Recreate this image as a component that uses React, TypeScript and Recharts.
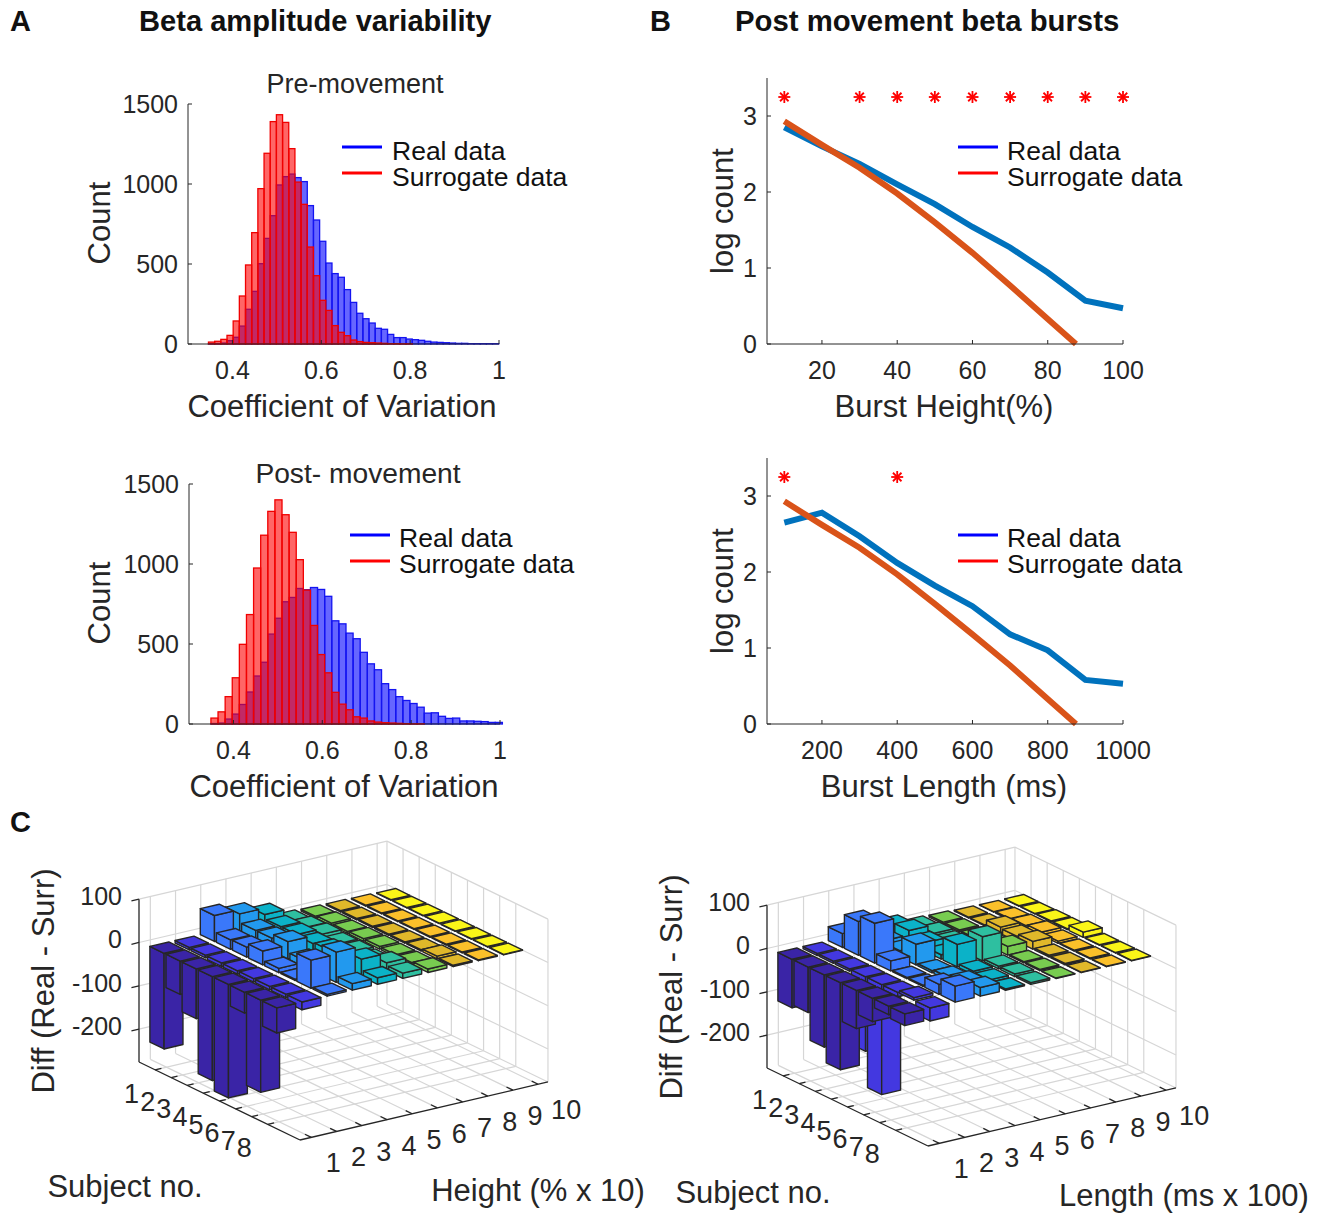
import React from "react";
import {
  Bar,
  ComposedChart,
  Line,
  Scatter,
  ScatterChart,
  XAxis,
  YAxis,
} from "recharts";

// Panel A, histogram counts per bin
const preReal = [2, 3, 6, 21, 42, 112, 217, 329, 502, 660, 802, 994, 1046, 1062, 1040, 1015, 865, 775, 642, 506, 440, 417, 340, 260, 192, 158, 131, 98, 92, 60, 40, 40, 31, 27, 23, 17, 12, 10, 8, 6, 4, 4, 2, 2, 2, 2, 2];
const preSurr = [12, 17, 29, 54, 144, 300, 494, 696, 971, 1192, 1390, 1433, 1385, 1221, 1012, 873, 606, 427, 273, 210, 115, 73, 52, 25, 15, 10, 8, 6, 4, 2, 2, 1, 1, 0, 0, 0, 0, 0, 0, 0, 0, 0, 0, 0, 0, 0, 0];
const postReal = [3, 6, 31, 62, 122, 200, 300, 386, 562, 661, 764, 791, 847, 839, 853, 841, 798, 645, 626, 568, 533, 448, 376, 339, 252, 215, 171, 147, 128, 105, 68, 70, 48, 35, 37, 19, 19, 17, 15, 10, 10];
const postSurr = [37, 76, 171, 289, 498, 684, 975, 1180, 1329, 1401, 1308, 1198, 1027, 837, 616, 434, 320, 198, 124, 89, 45, 37, 19, 12, 8, 6, 4, 2, 1, 1, 0, 0, 0, 0, 0, 0, 0, 0, 0, 0, 0];
const cvTicks = [0.4, 0.6, 0.8, 1];
const countTicks = [0, 500, 1000, 1500];

// Panel B
const heightBins = [10, 20, 30, 40, 50, 60, 70, 80, 90, 100];
const heightReal = [2.85, 2.6, 2.37, 2.1, 1.84, 1.54, 1.27, 0.94, 0.57, 0.47];
const heightSurrX = [10, 20, 30, 40, 50, 60, 70, 80, 87.5];
const heightSurr = [2.93, 2.62, 2.32, 1.98, 1.6, 1.2, 0.77, 0.33, 0];
const heightStars = [10, 30, 40, 50, 60, 70, 80, 90, 100];
const lengthBins = [100, 200, 300, 400, 500, 600, 700, 800, 900, 1000];
const lengthReal = [2.65, 2.78, 2.47, 2.12, 1.82, 1.55, 1.18, 0.97, 0.58, 0.53];
const lengthSurrX = [100, 200, 300, 400, 500, 600, 700, 800, 875];
const lengthSurr = [2.93, 2.62, 2.32, 1.97, 1.58, 1.18, 0.77, 0.33, 0];
const lengthStars = [100, 400];
const starLevel = 3.25;

// Panel C, one row per height/length bin, one value per subject
const heightDiff = [
  [-221, -77, -115, -240, -262, -48, -213, -58],
  [-6, -6, -8, -8, -8, -8, -8, -18],
  [60, 22, 23, 32, 10, 3, 65, 4],
  [50, 30, 30, 40, 15, 12, 70, 15],
  [35, 25, 25, 22, 25, 10, 40, 15],
  [6, 10, 12, 8, 8, 6, 18, 12],
  [4, 6, 5, 6, 6, 5, 5, 8],
  [3, 3, 3, 3, 3, 3, 6, 3],
  [2, 2, 2, 2, 2, 2, 2, 2],
  [1, 1, 1, 1, 1, 1, 1, 1],
];
const lengthDiff = [
  [-112, -105, -167, -201, -88, -54, -20, -27],
  [-5, -5, -5, -172, -254, -10, 6, -30],
  [32, 78, 92, 23, 3, 3, 23, 37],
  [5, 20, 15, 48, 5, 8, 15, 20],
  [22, 30, 20, 10, 52, 8, 6, 3],
  [6, 10, 8, 8, 56, 6, 6, 4],
  [4, 4, 3, 8, 20, 3, 3, 1],
  [2, 2, 15, 12, 18, 4, 3, 1],
  [1, 3, 5, 8, 5, 2, 2, 1],
  [1, 1, 2, 2, 12, 1, 1, 1],
];
const binColors = ["#3A24A6", "#4338E0", "#3A78FA", "#2299EE", "#0BB2C8", "#2EBFA0", "#78CC50", "#E0B82A", "#FBC02A", "#FAF518"];
const subjectTicks = [1, 2, 3, 4, 5, 6, 7, 8];
const binTicks = [1, 2, 3, 4, 5, 6, 7, 8, 9, 10];
const diffTicks = [100, 0, -100, -200];

const FONT = "'Liberation Sans', Arial, sans-serif";
const INK = "#262626";
const tickStyle = { fontSize: 25, fontFamily: FONT, fill: INK };

// recharts narrows bars on a numeric axis, so the bin width is set here
function HistBar(props: any) {
  const { x, y, width, height, fill, stroke, barPx } = props;
  if (!(height > 0)) return null;
  return <rect x={x + width / 2 - barPx / 2} y={y} width={barPx} height={height} fill={fill} stroke={stroke} strokeWidth={1.3} />;
}

function Histogram({ left, top, real, surr, start, width }: any) {
  const rows = real.map((r: number, i: number) => ({ x: start + width * (i + 0.5), real: r, surr: surr[i] }));
  const barPx = (width * 311) / 0.7;
  return (
    <div style={{ position: "absolute", left: left - 80, top: top - 20 }}>
      <ComposedChart width={80 + 311 + 30} height={20 + 240 + 50} data={rows} margin={{ top: 20, right: 30, bottom: 0, left: 0 }}>
        <XAxis xAxisId="real" dataKey="x" type="number" domain={[0.3, 1]} ticks={cvTicks} height={50} tickSize={-4} tickMargin={21} tick={tickStyle} stroke={INK} />
        <XAxis xAxisId="surr" dataKey="x" type="number" domain={[0.3, 1]} height={50} hide />
        <YAxis type="number" domain={[0, 1500]} ticks={countTicks} width={80} tickSize={-4} tickMargin={14} tick={tickStyle} stroke={INK} interval={0} />
        <Bar xAxisId="real" dataKey="real" fill="rgba(0,0,255,0.6)" stroke="#1414f0" shape={<HistBar barPx={barPx} />} isAnimationActive={false} />
        <Bar xAxisId="surr" dataKey="surr" fill="rgba(255,0,0,0.6)" stroke="#f00000" shape={<HistBar barPx={barPx} />} isAnimationActive={false} />
      </ComposedChart>
    </div>
  );
}

function Asterisk(props: any) {
  const { cx, cy, payload } = props;
  if (payload.star == null) return null;
  const r = 6;
  const d = r * 0.71;
  const arms = [[r, 0], [0, r], [d, d], [d, -d]];
  return (
    <g stroke="#ff0000" strokeWidth={1.8}>
      {arms.map(([a, b], i) => (
        <line key={i} x1={cx - a} y1={cy - b} x2={cx + a} y2={cy + b} />
      ))}
    </g>
  );
}

function BurstLines({ top, bins, real, surrX, surr, stars, domain, ticks }: any) {
  const xs = Array.from(new Set([...bins, ...surrX])).sort((a: any, b: any) => a - b);
  const rows = xs.map((x: any) => {
    const ri = bins.indexOf(x);
    const si = surrX.indexOf(x);
    return {
      x,
      real: ri >= 0 ? real[ri] : null,
      surr: si >= 0 ? surr[si] : null,
      star: stars.includes(x) ? starLevel : null,
    };
  });
  return (
    <div style={{ position: "absolute", left: 767 - 60, top: top - 10 }}>
      <ComposedChart width={60 + 356 + 40} height={10 + 266 + 50} data={rows} margin={{ top: 10, right: 40, bottom: 0, left: 0 }}>
        <XAxis dataKey="x" type="number" domain={domain} ticks={ticks} height={50} tickSize={-4} tickMargin={21} tick={tickStyle} stroke={INK} />
        <YAxis type="number" domain={[0, 3.5]} ticks={[0, 1, 2, 3]} width={60} tickSize={-4} tickMargin={14} tick={tickStyle} stroke={INK} />
        <Line dataKey="real" stroke="#0072BD" strokeWidth={6} dot={false} connectNulls isAnimationActive={false} />
        <Line dataKey="surr" stroke="#D95319" strokeWidth={6} dot={false} connectNulls isAnimationActive={false} />
        <Scatter dataKey="star" shape={<Asterisk />} isAnimationActive={false} />
      </ComposedChart>
    </div>
  );
}

// Oblique view of the bar3 axes, value space to page pixels
const S_MAX = 10;
const H_MIN = 0.55;
const H_MAX = 10.39;
const Z_MIN = -276;
const Z_MAX = 100;

function makeProject(dx: number, dy: number) {
  return (s: number, h: number, z: number) => [
    dx + 139 + s * 16.1 + (h - H_MIN) * 25.2,
    dy + 1062 + s * 7.8 - (h - H_MIN) * 5.9 - (z - Z_MIN) * 0.433,
  ];
}

function Mark3D(props: any) {
  const { cx, cy, payload: m } = props;
  const sx = cx - m.x;
  const sy = cy - m.y;
  if (m.kind === "face") {
    const pts = m.pts.map((p: number[]) => `${p[0] + sx},${p[1] + sy}`).join(" ");
    return <polygon points={pts} fill={m.color} stroke={INK} strokeWidth={1.4} strokeLinejoin="round" />;
  }
  if (m.kind === "line") {
    return <line x1={m.pts[0][0] + sx} y1={m.pts[0][1] + sy} x2={m.pts[1][0] + sx} y2={m.pts[1][1] + sy} stroke={m.color} strokeWidth={m.width} />;
  }
  return (
    <text x={cx} y={cy + 9} textAnchor={m.anchor} fontSize={m.size} fontFamily={FONT} fill={INK}>
      {m.text}
    </text>
  );
}

function buildMarks(matrix: number[][], dx: number, dy: number) {
  const P = makeProject(dx, dy);
  const marks: any[] = [];
  const seg = (a: number[], b: number[], color: string, width: number) =>
    marks.push({ kind: "line", x: a[0], y: a[1], pts: [a, b], color, width });
  const GRID = "#d6d6d6";

  // back walls and floor
  subjectTicks.forEach((s) => {
    seg(P(s, H_MIN, Z_MIN), P(s, H_MAX, Z_MIN), GRID, 1.2);
    seg(P(s, H_MAX, Z_MIN), P(s, H_MAX, Z_MAX), GRID, 1.2);
  });
  binTicks.forEach((h) => {
    seg(P(0, h, Z_MIN), P(S_MAX, h, Z_MIN), GRID, 1.2);
    seg(P(0, h, Z_MIN), P(0, h, Z_MAX), GRID, 1.2);
  });
  diffTicks.forEach((z) => {
    seg(P(0, H_MIN, z), P(0, H_MAX, z), GRID, 1.2);
    seg(P(0, H_MAX, z), P(S_MAX, H_MAX, z), GRID, 1.2);
  });
  seg(P(0, H_MAX, Z_MIN), P(S_MAX, H_MAX, Z_MIN), GRID, 1.2);
  seg(P(0, H_MAX, Z_MIN), P(0, H_MAX, Z_MAX), GRID, 1.2);
  seg(P(S_MAX, H_MAX, Z_MIN), P(S_MAX, H_MAX, Z_MAX), GRID, 1.2);

  // axis lines and ticks
  seg(P(0, H_MIN, Z_MIN), P(0, H_MIN, Z_MAX), INK, 1.3);
  seg(P(0, H_MIN, Z_MIN), P(S_MAX, H_MIN, Z_MIN), INK, 1.3);
  seg(P(S_MAX, H_MIN, Z_MIN), P(S_MAX, H_MAX, Z_MIN), INK, 1.3);
  diffTicks.forEach((z) => seg(P(0, H_MIN, z), P(0, H_MIN - 0.3, z), INK, 1.3));
  subjectTicks.forEach((s) => seg(P(s, H_MIN, Z_MIN), P(s, H_MIN + 0.25, Z_MIN), INK, 1.3));
  binTicks.forEach((h) => seg(P(S_MAX, h, Z_MIN), P(S_MAX - 0.4, h, Z_MIN), INK, 1.3));

  // bars, far corner first
  for (let r = matrix.length - 1; r >= 0; r--) {
    const h = r + 1;
    const color = binColors[r];
    matrix[r].forEach((v, i) => {
      const s = i + 1;
      const s0 = s - 0.44;
      const s1 = s + 0.44;
      const h0 = h - 0.375;
      const h1 = h + 0.375;
      const t = Math.max(v, 0);
      const b = Math.min(v, 0);
      const faces = [
        [P(s0, h0, b), P(s1, h0, b), P(s1, h0, t), P(s0, h0, t)],
        [P(s1, h0, b), P(s1, h1, b), P(s1, h1, t), P(s1, h0, t)],
        [P(s0, h0, t), P(s1, h0, t), P(s1, h1, t), P(s0, h1, t)],
      ];
      faces.forEach((pts) => marks.push({ kind: "face", x: pts[0][0], y: pts[0][1], pts, color }));
    });
  }

  // tick labels
  diffTicks.forEach((z) => {
    const p = P(0, H_MIN, z);
    marks.push({ kind: "text", x: p[0] - 17, y: p[1] - 3, text: String(z), anchor: "end", size: 25 });
  });
  subjectTicks.forEach((s) => {
    const p = P(s, H_MIN, Z_MIN);
    marks.push({ kind: "text", x: p[0] - 23.5, y: p[1] + 24, text: String(s), anchor: "middle", size: 27 });
  });
  binTicks.forEach((h) => {
    const p = P(S_MAX, h, Z_MIN);
    marks.push({ kind: "text", x: p[0] + (h === 10 ? 28 : 22), y: p[1] + 26, text: String(h), anchor: "middle", size: 27 });
  });
  return marks;
}

function Bars3D({ matrix, left, width, dx, dy }: any) {
  const marks = buildMarks(matrix, dx, dy);
  return (
    <div style={{ position: "absolute", left, top: 830 }}>
      <ScatterChart width={width} height={383} margin={{ top: 0, right: 0, bottom: 0, left: 0 }}>
        <XAxis dataKey="x" type="number" domain={[left, left + width]} hide />
        <YAxis dataKey="y" type="number" domain={[830, 1213]} reversed hide />
        <Scatter data={marks} shape={<Mark3D />} isAnimationActive={false} />
      </ScatterChart>
    </div>
  );
}

function LegendPair({ x, y1, y2, lineX, shift, color1, color2 }: any) {
  return (
    <g>
      <line x1={lineX} x2={lineX + 40} y1={y1} y2={y1} stroke={color1} strokeWidth={2.8} />
      <line x1={lineX} x2={lineX + 40} y1={y2} y2={y2} stroke={color2} strokeWidth={2.8} />
      <text x={x} y={y1 + shift} fontSize={26.5} fill="#111">Real data</text>
      <text x={x} y={y2 + shift} fontSize={26.5} fill="#111">Surrogate data</text>
    </g>
  );
}

function Rotated({ x, y, children }: any) {
  return (
    <text x={x} y={y} transform={`rotate(-90 ${x} ${y})`} textAnchor="middle" fontSize={31} fill={INK}>
      {children}
    </text>
  );
}

function Centered({ x, y, size = 31, children }: any) {
  return (
    <text x={x} y={y} textAnchor="middle" fontSize={size} fill={INK}>
      {children}
    </text>
  );
}

export default function App() {
  return (
    <div style={{ position: "absolute", left: 0, top: 0, width: 1325, height: 1213, background: "#fff", overflow: "hidden" }}>
      <Histogram left={188} top={104} real={preReal} surr={preSurr} start={0.346} width={0.0139} />
      <Histogram left={189} top={484} real={postReal} surr={postSurr} start={0.349} width={0.016} />
      <BurstLines top={78} bins={heightBins} real={heightReal} surrX={heightSurrX} surr={heightSurr} stars={heightStars} domain={[5.4, 100]} ticks={[20, 40, 60, 80, 100]} />
      <BurstLines top={458} bins={lengthBins} real={lengthReal} surrX={lengthSurrX} surr={lengthSurr} stars={lengthStars} domain={[54, 1000]} ticks={[200, 400, 600, 800, 1000]} />
      <Bars3D matrix={heightDiff} left={0} width={660} dx={0} dy={0} />
      <Bars3D matrix={lengthDiff} left={660} width={665} dx={628} dy={6} />
      <svg width={1325} height={1213} style={{ position: "absolute", left: 0, top: 0, pointerEvents: "none", fontFamily: FONT }}>
        <text x={10} y={31} fontSize={29} fontWeight="bold" fill="#111">A</text>
        <text x={650} y={31} fontSize={29} fontWeight="bold" fill="#111">B</text>
        <text x={10} y={832} fontSize={29} fontWeight="bold" fill="#111">C</text>
        <text x={139} y={31} fontSize={29.1} fontWeight="bold" fill="#111">Beta amplitude variability</text>
        <text x={735} y={31} fontSize={29.3} fontWeight="bold" fill="#111">Post movement beta bursts</text>

        <Centered x={355} y={93} size={27}>Pre-movement</Centered>
        <Centered x={358} y={483} size={28.2}>Post- movement</Centered>
        <Centered x={342} y={417}>Coefficient of Variation</Centered>
        <Centered x={344} y={797}>Coefficient of Variation</Centered>
        <Rotated x={110} y={223}>Count</Rotated>
        <Rotated x={110} y={603}>Count</Rotated>
        <LegendPair lineX={342} x={392} y1={147} y2={173} shift={13} color1="#0000ff" color2="#ff0000" />
        <LegendPair lineX={350} x={399} y1={535} y2={561} shift={12} color1="#0000ff" color2="#ff0000" />

        <Centered x={944} y={417}>Burst Height(%)</Centered>
        <Centered x={944} y={797}>Burst Length (ms)</Centered>
        <Rotated x={733} y={211}>log count</Rotated>
        <Rotated x={733} y={591}>log count</Rotated>
        <LegendPair lineX={958} x={1007} y1={147} y2={173} shift={13} color1="#0000ff" color2="#ff0000" />
        <LegendPair lineX={958} x={1007} y1={535} y2={561} shift={12} color1="#0000ff" color2="#ff0000" />

        <Rotated x={54} y={981}>Diff (Real - Surr)</Rotated>
        <Rotated x={682} y={987}>Diff (Real - Surr)</Rotated>
        <Centered x={125} y={1197}>Subject no.</Centered>
        <Centered x={753} y={1203}>Subject no.</Centered>
        <Centered x={538} y={1201}>Height (% x 10)</Centered>
        <Centered x={1184} y={1206}>Length (ms x 100)</Centered>
      </svg>
    </div>
  );
}
